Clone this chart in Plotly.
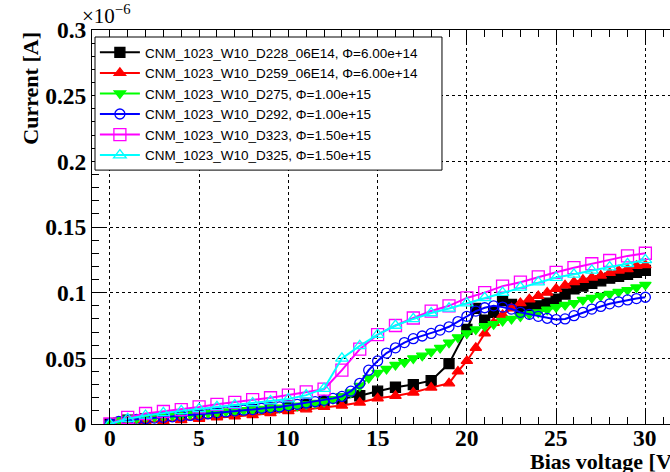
import plotly.graph_objects as go

# ---------------- data (current in units of 1e-6 A) ----------------
v_d228 = [0, 1, 2, 3, 4, 5, 6, 7, 8, 9, 10, 11, 12, 13, 14, 15, 16, 17, 18, 19,
          20, 20.5, 21, 21.5, 22, 22.5, 23, 23.5, 24, 24.5, 25, 25.5, 26, 26.5,
          27, 27.5, 28, 28.5, 29, 29.5, 30]
i_d228 = [0, 0.003, 0.004, 0.005, 0.006, 0.007, 0.008, 0.0095, 0.011, 0.012,
          0.0135, 0.015, 0.017, 0.019, 0.0215, 0.025, 0.028, 0.030, 0.033, 0.046,
          0.072, 0.088, 0.079, 0.085, 0.094, 0.091, 0.088, 0.0885, 0.090, 0.092,
          0.095, 0.099, 0.103, 0.105, 0.107, 0.109, 0.111, 0.1125, 0.114, 0.1155, 0.117]

v_d259 = [0, 1, 2, 3, 4, 5, 6, 7, 8, 9, 10, 11, 12, 13, 14, 15, 16, 17, 18, 19,
          19.5, 20, 20.5, 21, 21.5, 22, 22.5, 23, 23.5, 24, 24.5, 25, 25.5, 26,
          26.5, 27, 27.5, 28, 28.5, 29, 29.5, 30]
i_d259 = [0, 0.001, 0.0015, 0.0022, 0.003, 0.004, 0.005, 0.0058, 0.0068, 0.0083,
          0.0098, 0.0112, 0.013, 0.014, 0.0163, 0.0196, 0.0214, 0.024, 0.0277, 0.031,
          0.040, 0.048, 0.058, 0.069, 0.077, 0.083, 0.088, 0.092, 0.095, 0.0975,
          0.100, 0.103, 0.1055, 0.108, 0.1097, 0.1115, 0.113, 0.115, 0.1168, 0.118,
          0.1205, 0.121]

v_half = [0, 0.5, 1, 1.5, 2, 2.5, 3, 3.5, 4, 4.5, 5, 5.5, 6, 6.5, 7, 7.5, 8, 8.5,
          9, 9.5, 10, 10.5, 11, 11.5, 12, 12.5, 13, 13.5, 14, 14.5, 15, 15.5, 16,
          16.5, 17, 17.5, 18, 18.5, 19, 19.5, 20, 20.5, 21, 21.5, 22, 22.5, 23,
          23.5, 24, 24.5, 25, 25.5, 26, 26.5, 27, 27.5, 28, 28.5, 29, 29.5, 30]
i_d275 = [0, 0.003, 0.004, 0.0045, 0.005, 0.0055, 0.006, 0.0065, 0.007, 0.0075,
          0.008, 0.0085, 0.009, 0.0095, 0.010, 0.0105, 0.011, 0.0115, 0.012, 0.0125,
          0.013, 0.014, 0.015, 0.016, 0.017, 0.019,
          0.021, 0.024, 0.029, 0.035, 0.039, 0.042, 0.045, 0.047, 0.050, 0.052,
          0.055, 0.058, 0.062, 0.066, 0.069, 0.072, 0.0745, 0.076, 0.0785, 0.080,
          0.082, 0.0837, 0.085, 0.087, 0.089, 0.0906, 0.092, 0.0945, 0.096, 0.0975,
          0.099, 0.1005, 0.102, 0.104, 0.106]
i_d292 = [0, 0.002, 0.003, 0.0035, 0.004, 0.0045, 0.005, 0.0055, 0.006, 0.0065,
          0.007, 0.0078, 0.0085, 0.0092, 0.010, 0.0105, 0.011, 0.012, 0.0125, 0.013,
          0.014, 0.015, 0.016, 0.017, 0.018, 0.0195,
          0.021, 0.025, 0.031, 0.041, 0.048, 0.054, 0.058, 0.062, 0.065, 0.067,
          0.069, 0.0715, 0.074, 0.078, 0.082, 0.086, 0.0885, 0.090, 0.089, 0.0875,
          0.085, 0.0835, 0.082, 0.0805, 0.0795, 0.080, 0.0825, 0.085, 0.0875, 0.0895,
          0.0915, 0.093, 0.0945, 0.0955, 0.0965]

v_int = [0, 1, 2, 3, 4, 5, 6, 7, 8, 9, 10, 11, 12, 13, 14, 15, 16, 17, 18, 19,
         20, 21, 22, 23, 24, 25, 26, 27, 28, 29, 30]
i_d323 = [0, 0.005, 0.008, 0.0095, 0.011, 0.013, 0.015, 0.0165, 0.0185, 0.020,
          0.022, 0.0245, 0.0265, 0.041, 0.057, 0.068, 0.075, 0.0807, 0.086, 0.090,
          0.096, 0.100, 0.105, 0.108, 0.112, 0.1155, 0.119, 0.122, 0.1245, 0.128, 0.130]
i_d325 = [0, 0.004, 0.0065, 0.0085, 0.010, 0.0115, 0.013, 0.0145, 0.016, 0.0175,
          0.019, 0.022, 0.027, 0.050, 0.0595, 0.068, 0.075, 0.080, 0.0845, 0.088,
          0.092, 0.096, 0.100, 0.104, 0.108, 0.1115, 0.114, 0.117, 0.1195, 0.122, 0.125]

x_ticks = [0, 5, 10, 15, 20, 25, 30]
x_ticktext = ["0", "5", "10", "15", "20", "25", "30"]
y_ticks = [0, 0.05, 0.1, 0.15, 0.2, 0.25, 0.3]
y_ticktext = ["0", "0.05", "0.1", "0.15", "0.2", "0.25", "0.3"]

names = ["CNM_1023_W10_D228_06E14, Φ=6.00e+14",
         "CNM_1023_W10_D259_06E14, Φ=6.00e+14",
         "CNM_1023_W10_D275, Φ=1.00e+15",
         "CNM_1023_W10_D292, Φ=1.00e+15",
         "CNM_1023_W10_D323, Φ=1.50e+15",
         "CNM_1023_W10_D325, Φ=1.50e+15"]
colors = ["#000000", "#ff0000", "#00ff00", "#0000ff", "#ff00ff", "#00ffff"]
symbols = ["square", "triangle-up", "triangle-down", "circle-open",
           "square-open", "triangle-up-open"]
sizes = [10, 10, 10, 10, 12, 11]

xs = [v_d228, v_d259, v_half, v_half, v_int, v_int]
ys = [i_d228, i_d259, i_d275, i_d292, i_d323, i_d325]

fig = go.Figure()
for k in range(6):
    fig.add_trace(go.Scatter(
        x=xs[k], y=ys[k], name=names[k], mode="lines+markers",
        line=dict(color=colors[k], width=2),
        marker=dict(symbol=symbols[k], size=sizes[k], color=colors[k],
                    line=dict(color=colors[k], width=1.3)),
    ))

tickfont = dict(family="Liberation Serif", size=23.5, color="black", weight="bold")

fig.update_layout(
    width=670, height=472,
    margin=dict(l=92, r=0, t=30, b=48),
    paper_bgcolor="white", plot_bgcolor="white",
    showlegend=True,
    legend=dict(x=0.005, y=0.982, xanchor="left", yanchor="top",
                bgcolor="rgba(0,0,0,0)", borderwidth=0,
                font=dict(family="Liberation Sans", size=13.5, color="black"),
                itemwidth=40, tracegroupgap=0),
    xaxis=dict(range=[-1.0, 31.38], tickvals=x_ticks, showticklabels=False,
               ticks="inside", ticklen=13, tickwidth=1, tickcolor="black",
               minor=dict(dtick=1, ticks="inside", ticklen=7, tickcolor="black", showgrid=False),
               showline=True, linecolor="black", linewidth=1, mirror="ticks",
               showgrid=True, gridcolor="black", griddash="dot", gridwidth=1,
               zeroline=False),
    yaxis=dict(range=[0, 0.3], tickvals=y_ticks, ticktext=y_ticktext,
               ticks="inside", ticklen=13, tickwidth=1, tickcolor="black",
               minor=dict(dtick=0.01, ticks="inside", ticklen=7, tickcolor="black", showgrid=False),
               showline=True, linecolor="black", linewidth=1,
               showgrid=True, gridcolor="black", griddash="dot", gridwidth=1,
               zeroline=False, tickfont=tickfont),
)

# legend frame (wider than the auto-sized legend box, as in the original)
fig.add_shape(type="rect", xref="paper", yref="paper",
              x0=0.0052, x1=0.6055, y0=0.6444, y1=0.9822,
              fillcolor="white", line=dict(color="black", width=1), layer="above")

# x tick labels (placed close under the axis, as in the original)
for tv, tt in zip(x_ticks, x_ticktext):
    fig.add_annotation(text=tt, xref="x", yref="paper", x=tv, y=0.0,
                       xanchor="center", yanchor="top", showarrow=False,
                       borderpad=0, font=tickfont)

titlefont = dict(family="Liberation Serif", size=22, color="black", weight="bold")
fig.add_annotation(text="Current [A]", textangle=-90, xref="paper", yref="paper",
                   x=-0.107, y=1.0, xanchor="center", yanchor="top",
                   showarrow=False, font=titlefont)
fig.add_annotation(text="Bias voltage [V]", xref="paper", yref="paper",
                   x=0.7543, y=-0.094, xanchor="left", yanchor="middle",
                   showarrow=False, font=titlefont)
fig.add_annotation(text="×10<sup>−6</sup>", xref="paper", yref="paper",
                   x=-0.021, y=1.0, xanchor="left", yanchor="bottom",
                   showarrow=False,
                   font=dict(family="Liberation Serif", size=21, color="black"))

fig.write_html("out.html")
